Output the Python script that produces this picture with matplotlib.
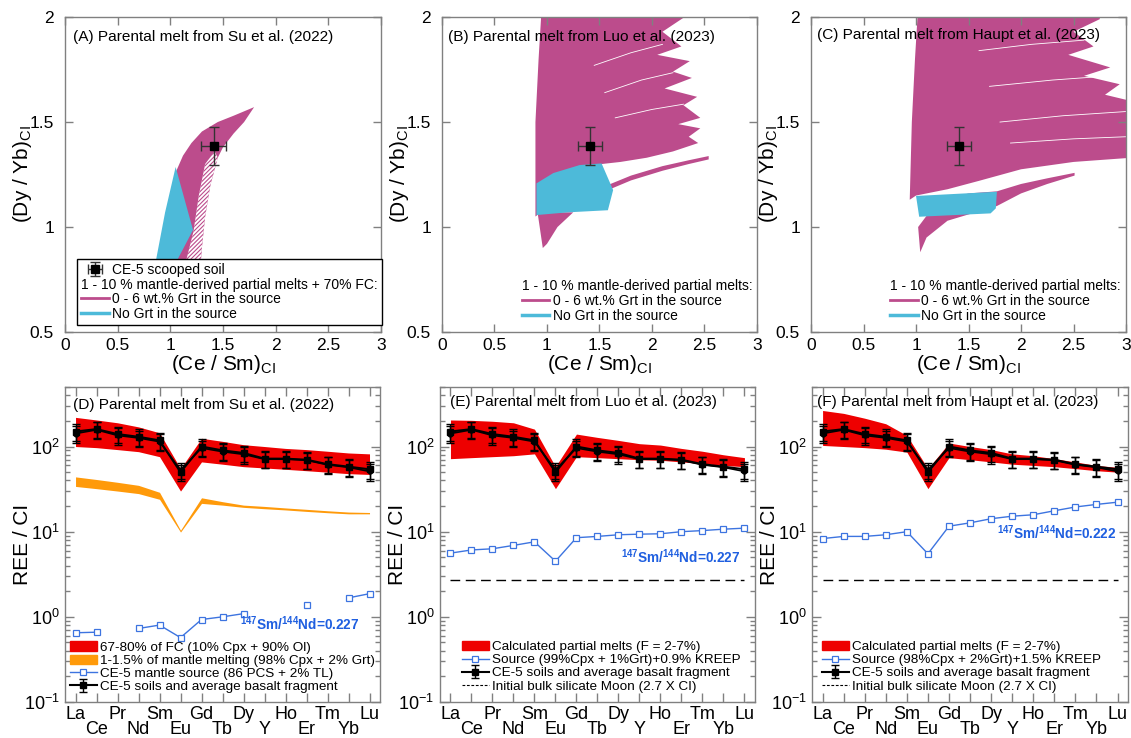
import matplotlib
matplotlib.use('Agg')
import matplotlib.pyplot as plt
import numpy as np
from matplotlib.patches import Polygon, Patch
from matplotlib.lines import Line2D
from matplotlib.ticker import FuncFormatter, LogLocator, NullFormatter

plt.rcParams['font.family'] = ['Liberation Sans', 'DejaVu Sans']
plt.rcParams['mathtext.fontset'] = 'custom'
plt.rcParams['mathtext.rm'] = 'Liberation Sans'
plt.rcParams['mathtext.it'] = 'Liberation Sans:italic'
plt.rcParams['mathtext.bf'] = 'Liberation Sans:bold'
plt.rcParams['hatch.linewidth'] = 0.8

MAGENTA = '#BC4C8C'
CYAN = '#4DBAD9'
RED = '#EE0000'
ORANGE = '#FF9A0A'
BLUE = '#3D74E0'
NOTE_BLUE = '#1F5FE0'
GRAY = '#808080'

# ---- top row: (Ce/Sm)CI vs (Dy/Yb)CI ----
ce5_x, ce5_y = 1.41, 1.385
ce5_xerr, ce5_yerr = 0.115, 0.09

# outlines of the model fields
a_grt = [(1.0, 0.78), (1.05, 1.26), (1.12, 1.34), (1.2, 1.40), (1.3, 1.455), (1.45, 1.50),
         (1.6, 1.53), (1.795, 1.571), (1.70, 1.50), (1.60, 1.445), (1.50, 1.38), (1.45, 1.33),
         (1.38, 1.20), (1.33, 1.05), (1.30, 0.905), (1.28, 0.78)]
a_grt_striped = [(1.12, 0.78), (1.22, 0.98), (1.27, 1.15), (1.33, 1.30), (1.42, 1.36),
                 (1.45, 1.33), (1.38, 1.20), (1.33, 1.05), (1.30, 0.905), (1.28, 0.78)]
a_nogrt = [(0.84, 0.78), (0.95, 1.07), (1.05, 1.286), (1.215, 0.986), (1.0, 0.78)]

b_grt = [(0.89, 1.05), (0.89, 1.5), (0.92, 1.8), (0.95, 2.05), (2.31, 2.05), (2.31, 2.0),
         (2.10, 1.93), (2.28, 1.86), (2.05, 1.82), (2.36, 1.79), (2.20, 1.74), (2.38, 1.71),
         (2.12, 1.66), (2.43, 1.62), (2.30, 1.58), (2.46, 1.52), (2.25, 1.49), (2.46, 1.47),
         (2.35, 1.43), (2.44, 1.40), (2.2, 1.36), (1.95, 1.33), (1.70, 1.31), (1.52, 1.30)]
b_grt_branch = [(1.58, 1.20), (1.80, 1.245), (2.10, 1.29), (2.35, 1.318), (2.54, 1.338),
                (2.54, 1.322), (2.35, 1.300), (2.10, 1.268), (1.80, 1.222), (1.60, 1.18)]
b_grt_tail = [(0.91, 1.07), (0.96, 0.90), (1.0, 0.92), (1.1, 1.0), (1.25, 1.07)]
b_nogrt = [(0.90, 1.208), (1.06, 1.257), (1.31, 1.295), (1.52, 1.303), (1.63, 1.176),
           (1.58, 1.08), (1.2, 1.07), (0.90, 1.057)]
b_gaps = [[(1.45, 1.77), (1.80, 1.83), (2.10, 1.87)],
          [(1.55, 1.64), (1.90, 1.70), (2.20, 1.735)],
          [(1.65, 1.52), (2.00, 1.56), (2.30, 1.585)]]

c_grt = [(0.94, 1.13), (0.96, 1.5), (0.99, 1.8), (1.02, 2.05), (2.75, 2.05), (2.75, 1.99),
         (2.50, 1.93), (2.69, 1.86), (2.45, 1.82), (2.85, 1.76), (2.60, 1.72), (2.94, 1.68),
         (2.80, 1.63), (3.05, 1.60), (3.05, 1.33), (2.50, 1.31), (2.00, 1.275), (1.60, 1.22),
         (1.30, 1.18), (1.00, 1.15)]
c_grt_lower = [(1.04, 0.88), (1.10, 0.95), (1.30, 1.03), (1.50, 1.06), (1.77, 1.10),
               (2.00, 1.16), (2.25, 1.205), (2.51, 1.245), (2.51, 1.258), (2.25, 1.232),
               (2.00, 1.205), (1.77, 1.17), (1.50, 1.16), (1.20, 1.12), (1.02, 1.00)]
c_nogrt = [(1.0, 1.148), (1.77, 1.168), (1.76, 1.089), (1.71, 1.065), (1.03, 1.049)]
c_gaps = [[(1.60, 1.84), (2.10, 1.87), (2.60, 1.89)],
          [(1.70, 1.67), (2.30, 1.70), (2.85, 1.72)],
          [(1.80, 1.50), (2.40, 1.53), (3.00, 1.55)],
          [(1.90, 1.40), (2.50, 1.42), (3.00, 1.43)]]

# ---- bottom row: REE patterns ----
elements = ['La', 'Ce', 'Pr', 'Nd', 'Sm', 'Eu', 'Gd', 'Tb', 'Dy', 'Y', 'Ho', 'Er', 'Tm', 'Yb', 'Lu']
soil = [150, 160, 140, 130, 118, 50, 100, 90, 84, 72, 72, 70, 62, 58, 54]
basalt = [142, 157, 135, 126, 114, 53, 96, 87, 81, 71, 71, 69, 61, 57, 51]

fc_upper = [220, 205, 190, 170, 145, 55, 125, 115, 105, 100, 95, 92, 88, 84, 82]
fc_lower = [100, 97, 92, 87, 76, 30, 66, 62, 58, 56, 54, 52, 50, 48, 47]
melt_d_upper = [44, 41, 38, 35, 29, 10.4, 25, 22.5, 20.5, 19.8, 19, 18.3, 17.6, 17, 16.8]
melt_d_lower = [34, 32, 30, 28, 24, 9.9, 21.5, 20.5, 19.3, 18.6, 18, 17.3, 16.7, 16.2, 16.2]
source_d = [0.65, 0.66, np.nan, 0.73, 0.80, 0.57, 0.93, 1.0, 1.09, np.nan, np.nan, 1.36, np.nan, 1.67, 1.87]

melt_e_upper = [205, 203, 198, 190, 160, 58, 140, 128, 118, 108, 104, 95, 88, 80, 74]
melt_e_lower = [72, 74, 76, 78, 82, 32, 76, 74, 72, 70, 69, 66, 63, 60, 58]
source_e = [5.6, 6.1, 6.3, 6.9, 7.6, 4.5, 8.5, 8.8, 9.2, 9.35, 9.45, 10.0, 10.3, 10.7, 11.0]

melt_f_upper = [265, 245, 215, 185, 135, 55, 110, 100, 92, 82, 78, 72, 66, 60, 57]
melt_f_lower = [103, 100, 97, 93, 86, 32, 74, 70, 66, 62, 60, 58, 55, 52, 50]
source_f = [8.3, 8.8, 8.8, 9.2, 10.0, 5.5, 11.6, 12.7, 14.2, 15.2, 15.8, 17.6, 19.5, 20.9, 22.2]

bsm = 2.7
err_frac = 0.22

fig = plt.figure(figsize=(11.31, 7.38), dpi=100)
top_pos = [(0.0575, 0.5501, 0.2794, 0.4268), (0.3908, 0.5501, 0.2785, 0.4268),
           (0.7171, 0.5501, 0.2785, 0.4268)]
bot_pos = [(0.0575, 0.0488, 0.2785, 0.4268), (0.389, 0.0488, 0.2785, 0.4268),
           (0.718, 0.0488, 0.2794, 0.4268)]


def frame(ax):
    for s in ax.spines.values():
        s.set_color(GRAY)
        s.set_linewidth(1)


def text_only_row(leg, row):
    # let a label with no handle start where the handles start
    col = leg._legend_handle_box.get_children()[0]
    box = col.get_children()[row]
    box.sep = 0
    box.get_children()[0].width = 0


def top_panel(pos, title, title_xy, fields, gaps):
    ax = fig.add_axes(pos)
    for verts, kw in fields:
        ax.add_patch(Polygon(verts, closed=True, **kw))
    for g in gaps:
        gx, gy = zip(*g)
        ax.plot(gx, gy, color='white', lw=0.6, zorder=2)
    eb = ax.errorbar(ce5_x, ce5_y, xerr=ce5_xerr, yerr=ce5_yerr, fmt='s', color='black',
                     ecolor='#333333', elinewidth=1, capsize=3.5, ms=6, zorder=5)
    ax.set_xlim(0, 3)
    ax.set_ylim(0.5, 2)
    ax.set_xticks([0, 0.5, 1, 1.5, 2, 2.5, 3])
    ax.set_yticks([0.5, 1, 1.5, 2])
    ax.xaxis.set_major_formatter(FuncFormatter(lambda v, p: '%g' % v))
    ax.yaxis.set_major_formatter(FuncFormatter(lambda v, p: '%g' % v))
    ax.tick_params(direction='in', top=True, right=True, length=5.5, width=1,
                   color=GRAY, labelsize=12.5)
    ax.tick_params(axis='y', pad=8)
    ax.tick_params(axis='x', pad=4)
    ax.set_xlabel(r'(Ce / Sm)$_{\mathrm{CI}}$', fontsize=15, labelpad=0)
    ax.set_ylabel(r'(Dy / Yb)$_{\mathrm{CI}}$', fontsize=15, labelpad=-3)
    ax.text(title_xy[0], title_xy[1], title, transform=ax.transAxes, fontsize=11.1,
            va='center', ha='left')
    frame(ax)
    return ax, eb


grt_kw = dict(facecolor=MAGENTA, edgecolor='none', zorder=1)
striped_kw = dict(facecolor='white', edgecolor=MAGENTA, hatch='////////', lw=0, zorder=1.5)
nogrt_kw = dict(facecolor=CYAN, edgecolor='none', zorder=3)

grt_handle = Line2D([], [], color=MAGENTA, lw=2)
nogrt_handle = Line2D([], [], color=CYAN, lw=2.5)
blank = Line2D([], [], linestyle='none')

axA, ebA = top_panel(top_pos[0], '(A) Parental melt from Su et al. (2022)', (0.025, 0.937),
                     [(a_grt, grt_kw), (a_grt_striped, striped_kw), (a_nogrt, nogrt_kw)], [])
legA = axA.legend([ebA, blank, grt_handle, nogrt_handle],
                  ['CE-5 scooped soil', '1 - 10 % mantle-derived partial melts + 70% FC:',
                   '0 - 6 wt.% Grt in the source', 'No Grt in the source'],
                  loc='lower left', bbox_to_anchor=(0.038, 0.022), borderaxespad=0,
                  fontsize=10, frameon=True, fancybox=False, framealpha=1, edgecolor='black',
                  borderpad=0.3, labelspacing=0.05, handlelength=2.0, handletextpad=0.25)
legA.get_frame().set_linewidth(1)
legA.set_zorder(10)
text_only_row(legA, 1)

legend_top = ['1 - 10 % mantle-derived partial melts:', '0 - 6 wt.% Grt in the source',
              'No Grt in the source']

axB, ebB = top_panel(top_pos[1], '(B) Parental melt from Luo et al. (2023)', (0.019, 0.936),
                     [(b_grt, grt_kw), (b_grt_branch, grt_kw), (b_grt_tail, grt_kw),
                      (b_nogrt, nogrt_kw)], b_gaps)
axC, ebC = top_panel(top_pos[2], '(C) Parental melt from Haupt et al. (2023)', (0.018, 0.943),
                     [(c_grt, grt_kw), (c_grt_lower, grt_kw), (c_nogrt, nogrt_kw)], c_gaps)
for ax, bx in ((axB, 0.253), (axC, 0.251)):
    leg = ax.legend([blank, grt_handle, nogrt_handle], legend_top, loc='lower left',
                    bbox_to_anchor=(bx, 0.03), borderaxespad=0, borderpad=0, fontsize=10,
                    frameon=False, labelspacing=0.05, handlelength=2.0, handletextpad=0.25)
    text_only_row(leg, 0)

# ---- bottom row ----
x = np.arange(1, len(elements) + 1)
odd = x[0::2]
even = x[1::2]


def bottom_panel(pos, title, title_xy):
    ax = fig.add_axes(pos)
    ax.set_yscale('log')
    ax.set_xlim(0.5, 15.5)
    ax.set_ylim(0.1, 500)
    ax.set_xticks(odd)
    ax.set_xticklabels(elements[0::2])
    ax.set_xticks(even, minor=True)
    ax.set_xticklabels(elements[1::2], minor=True)
    ax.yaxis.set_major_locator(LogLocator(base=10, numticks=10))
    ax.yaxis.set_minor_locator(LogLocator(base=10, subs=np.arange(2, 10), numticks=20))
    ax.yaxis.set_major_formatter(FuncFormatter(lambda v, p: r'$10^{%d}$' % round(np.log10(v))))
    ax.yaxis.set_minor_formatter(NullFormatter())
    ax.tick_params(which='both', direction='in', top=True, right=True, color=GRAY, width=1,
                   labelsize=13)
    ax.tick_params(axis='x', which='both', length=6.5, pad=3)
    ax.tick_params(axis='x', which='minor', pad=13.5)
    ax.tick_params(axis='y', which='major', length=6.5, pad=4)
    ax.tick_params(axis='y', which='minor', length=3.5)
    ax.set_ylabel('REE / CI', fontsize=15, labelpad=-6)
    ax.text(title_xy[0], title_xy[1], title, transform=ax.transAxes, fontsize=11.1,
            va='center', ha='left')
    frame(ax)
    return ax


def ce5_lines(ax):
    ax.errorbar(x, basalt, yerr=err_frac * np.array(basalt), fmt='-o', color='black', lw=1.2,
                ms=3.5, capsize=3, elinewidth=1, zorder=4)
    eb = ax.errorbar(x, soil, yerr=err_frac * np.array(soil), fmt='-s', color='black', lw=1.5,
                     ms=4, capsize=3, elinewidth=1, zorder=5)
    return eb


def source_line(ax, vals):
    ln, = ax.plot(x, vals, '-s', color=BLUE, lw=1, ms=4, mfc='white', mew=0.9, zorder=3)
    return ln


def note(ax, xpos, ypos, ratio):
    ax.text(xpos, ypos, r'$^{\mathbf{147}}$Sm/$^{\mathbf{144}}$Nd=' + ratio, color=NOTE_BLUE,
            fontsize=9.8, fontweight='bold', va='center', ha='left')


leg_kw = dict(loc='lower left', borderaxespad=0, borderpad=0, fontsize=9.7, frameon=False,
              labelspacing=0.05, handlelength=2.0, handletextpad=0.25)

axD = bottom_panel(bot_pos[0], '(D) Parental melt from Su et al. (2022)', (0.025, 0.943))
axD.fill_between(x, fc_lower, fc_upper, color=RED, lw=0, zorder=1)
axD.fill_between(x, melt_d_lower, melt_d_upper, color=ORANGE, lw=0, zorder=1)
srcD = source_line(axD, source_d)
ebD = ce5_lines(axD)
note(axD, 8.85, 0.83, '0.227')
axD.legend([Patch(color=RED), Patch(color=ORANGE), srcD, ebD],
           ['67-80% of FC (10% Cpx + 90% Ol)', '1-1.5% of mantle melting (98% Cpx + 2% Grt)',
            'CE-5 mantle source (86 PCS + 2% TL)', 'CE-5 soils and average basalt fragment'],
           bbox_to_anchor=(0.015, 0.028), **leg_kw)

for pos, title, txy, upper, lower, src, nxy, ratio, lab, bx in (
        (bot_pos[1], '(E) Parental melt from Luo et al. (2023)', (0.032, 0.953),
         melt_e_upper, melt_e_lower, source_e, (9.1, 5.1), '0.227',
         'Source (99%Cpx + 1%Grt)+0.9% KREEP', 0.069),
        (bot_pos[2], '(F) Parental melt from Haupt et al. (2023)', (0.015, 0.953),
         melt_f_upper, melt_f_lower, source_f, (9.3, 9.6), '0.222',
         'Source (98%Cpx + 2%Grt)+1.5% KREEP', 0.031)):
    ax = bottom_panel(pos, title, txy)
    ax.fill_between(x, lower, upper, color=RED, lw=0, zorder=1)
    ax.plot(x, [bsm] * len(x), color='black', lw=1, dashes=(7, 4), zorder=2)
    src_ln = source_line(ax, src)
    eb = ce5_lines(ax)
    note(ax, nxy[0], nxy[1], ratio)
    bsm_handle = Line2D([], [], color='black', lw=0.8, dashes=(2.5, 1.5))
    ax.legend([Patch(color=RED), src_ln, eb, bsm_handle],
              ['Calculated partial melts (F = 2-7%)', lab,
               'CE-5 soils and average basalt fragment', 'Initial bulk silicate Moon (2.7 X CI)'],
              bbox_to_anchor=(bx, 0.03), **leg_kw)

fig.savefig('out.png', dpi=100)
